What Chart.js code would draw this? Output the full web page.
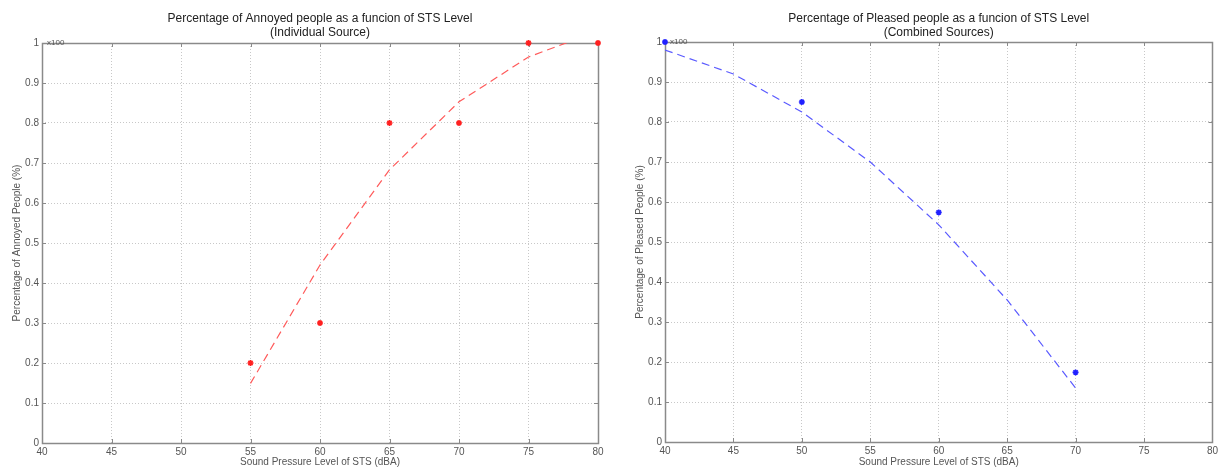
<!DOCTYPE html>
<html>
<head>
<meta charset="utf-8">
<script src="https://cdn.jsdelivr.net/npm/chart.js@4/dist/chart.umd.min.js"></script>
<style>
  body { margin: 0; background: #fff; }
  #left { position: absolute; left: 0; top: 0; }
  #right { position: absolute; left: 610px; top: 0; }
</style>
</head>
<body>
<canvas id="left" width="610" height="468"></canvas>
<canvas id="right" width="611" height="468"></canvas>
<script>
// ---- data ----
const levelTicks = [40, 45, 50, 55, 60, 65, 70, 75, 80];
const shareTicks = [0, 0.1, 0.2, 0.3, 0.4, 0.5, 0.6, 0.7, 0.8, 0.9, 1];

const annoyedLevels   = [55, 60, 65, 70, 75, 80];
const annoyedObserved = [0.2, 0.3, 0.8, 0.8, 1.0, 1.0];
const annoyedFitLevels = [55, 60, 65, 70, 75, 80];
const annoyedFit       = [0.149, 0.445, 0.683, 0.853, 0.965, 1.03];

const pleasedLevels   = [40, 50, 60, 70];
const pleasedObserved = [1.0, 0.85, 0.574, 0.174];
const pleasedFitLevels = [40, 45, 50, 55, 60, 65, 70];
const pleasedFit       = [0.98, 0.92, 0.825, 0.70, 0.543, 0.355, 0.135];

const FONT = "'Liberation Sans', Arial, sans-serif";

function pts(xs, ys) {
    return xs.map((v, i) => ({x: v, y: ys[i]}));
}

// matlab style box, inward ticks, title and the x100 mark
const matlabFrame = {
    id: 'matlabFrame',
    beforeDatasetsDraw(chart, args, opts) {
        const ctx = chart.ctx;
        const a = chart.chartArea;
        const xs = chart.scales.x, ys = chart.scales.y;
        ctx.save();
        ctx.strokeStyle = '#8a8a8a';
        ctx.lineWidth = 1;
        ctx.beginPath();
        xs.ticks.forEach(t => {
            const px = Math.round(xs.getPixelForValue(t.value)) + 0.5;
            ctx.moveTo(px, a.bottom); ctx.lineTo(px, a.bottom - 4);
            ctx.moveTo(px, a.top);    ctx.lineTo(px, a.top + 4);
        });
        ys.ticks.forEach(t => {
            const py = Math.round(ys.getPixelForValue(t.value)) + 0.5;
            ctx.moveTo(a.left, py);  ctx.lineTo(a.left + 4, py);
            ctx.moveTo(a.right, py); ctx.lineTo(a.right - 4, py);
        });
        ctx.stroke();
        ctx.lineWidth = 1.5;
        ctx.strokeRect(Math.round(a.left) + 0.5, Math.round(a.top) + 0.5,
                       Math.round(a.right - a.left), Math.round(a.bottom - a.top));
        ctx.restore();
    },
    afterDraw(chart, args, opts) {
        const ctx = chart.ctx;
        const a = chart.chartArea;
        ctx.save();
        ctx.fillStyle = '#222';
        ctx.textAlign = 'center';
        ctx.textBaseline = 'middle';
        ctx.font = '12px ' + FONT;
        const cx = (a.left + a.right) / 2;
        opts.lines.forEach((s, i) => ctx.fillText(s, cx, opts.titleY + i * 13.5));
        ctx.fillStyle = '#555';
        ctx.textAlign = 'left';
        ctx.font = '8px ' + FONT;
        ctx.fillText('x100', a.left + 5, a.top);
        ctx.restore();
    }
};

function makeChart(id, lineData, pointData, color, lineColor, yTitle, title, geo) {
    return new Chart(document.getElementById(id), {
        type: 'scatter',
        data: {
            datasets: [{
                data: lineData,
                showLine: true,
                borderColor: lineColor,
                borderWidth: 1.2,
                borderDash: [8, 5],
                pointRadius: 0,
                fill: false
            }, {
                data: pointData,
                showLine: false,
                pointStyle: 'star',
                pointRadius: 3,
                borderWidth: 1.6,
                borderColor: color,
                backgroundColor: color,
                clip: false
            }]
        },
        options: {
            responsive: false,
            devicePixelRatio: 1,
            animation: false,
            layout: { padding: { top: geo.top, right: geo.right, left: 0, bottom: 0 } },
            plugins: {
                legend: { display: false },
                tooltip: { enabled: false },
                matlabFrame: { lines: title, titleY: 19 }
            },
            scales: {
                x: {
                    type: 'linear', min: 40, max: 80,
                    afterBuildTicks: s => { s.ticks = levelTicks.map(v => ({value: v})); },
                    afterFit: s => { s.height = geo.xh; },
                    grid: { color: '#c8c8c8', drawTicks: false, lineWidth: 1 },
                    border: { display: false, dash: [1, 2] },
                    ticks: { color: '#555', font: { family: FONT, size: 10 }, padding: 3, maxRotation: 0 },
                    title: { display: true, text: 'Sound Pressure Level of STS (dBA)', color: '#555',
                             font: { family: FONT, size: 10 }, padding: { top: 0, bottom: 0 } }
                },
                y: {
                    type: 'linear', min: 0, max: 1,
                    afterBuildTicks: s => { s.ticks = shareTicks.map(v => ({value: v})); },
                    afterFit: s => { s.width = geo.yw; },
                    grid: { color: '#c8c8c8', drawTicks: false, lineWidth: 1 },
                    border: { display: false, dash: [1, 2] },
                    ticks: { color: '#555', font: { family: FONT, size: 10 }, padding: 3,
                             callback: v => String(Math.round(v * 10) / 10) },
                    title: { display: true, text: yTitle, color: '#555',
                             font: { family: FONT, size: 10 }, padding: { top: geo.ytp, bottom: 0 } }
                }
            }
        },
        plugins: [matlabFrame]
    });
}

makeChart('left', pts(annoyedFitLevels, annoyedFit), pts(annoyedLevels, annoyedObserved),
    '#ff2020', '#ff5a5a', 'Percentage of Annoyed People (%)',
    ['Percentage of Annoyed people as a funcion of STS Level', '(Individual Source)'],
    { top: 43, right: 12, xh: 25, yw: 42, ytp: 11 });

makeChart('right', pts(pleasedFitLevels, pleasedFit), pts(pleasedLevels, pleasedObserved),
    '#2020ff', '#5a5aff', 'Percentage of Pleased People (%)',
    ['Percentage of Pleased people as a funcion of STS Level', '(Combined Sources)'],
    { top: 42, right: 8, xh: 26, yw: 55, ytp: 24 });
</script>
</body>
</html>
